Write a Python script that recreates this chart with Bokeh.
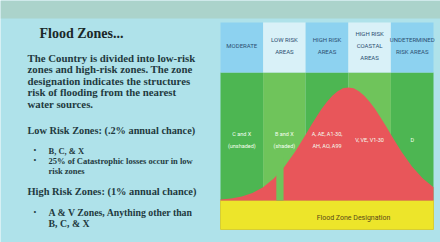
from bokeh.plotting import figure
from bokeh.models import Range1d, ColumnDataSource
from bokeh.core.properties import value
from bokeh.embed import file_html
from bokeh.resources import INLINE

# ---------------- data ----------------
zones = ["MODERATE", "LOW RISK AREAS", "HIGH RISK AREAS", "HIGH RISK COASTAL AREAS", "UNDETERMINED RISK AREAS"]
zone_header_lines = [["MODERATE"], ["LOW RISK", "AREAS"], ["HIGH RISK", "AREAS"],
                     ["HIGH RISK", "COASTAL", "AREAS"], ["UNDETERMINED", "RISK AREAS"]]
zone_codes = [["C and X", "(unshaded)"], ["B and X", "(shaded)"], ["A, AE, A1-30,", "AH, AO, A99"],
              ["V, VE, V1-30"], ["D"]]

# flood-risk curve (zone position, relative height)
curve_x = [0.0, 0.25, 0.5, 0.75, 1.0, 1.25, 1.5, 1.75, 1.875, 2.0, 2.125, 2.25, 2.375, 2.5, 2.625,
           2.75, 2.875, 3.0, 3.125, 3.25, 3.375, 3.5, 3.625, 3.75, 3.875, 4.0, 4.125, 4.25, 4.5, 4.75, 5.0]
curve_y = [0.007, 0.015, 0.031, 0.058, 0.103, 0.171, 0.264, 0.381, 0.447, 0.516, 0.585, 0.653, 0.716,
           0.772, 0.819, 0.854, 0.876, 0.883, 0.876, 0.854, 0.819, 0.772, 0.716, 0.653, 0.585, 0.516,
           0.447, 0.381, 0.264, 0.171, 0.103]
gap_x = [1.31, 1.48]   # unshaded gap between B/X and the high-risk zones

title = "Flood Zones..."
intro_lines = ["The Country is divided into low-risk", "zones and high-risk zones. The zone",
               "designation indicates the structures", "risk of flooding from the nearest", "water sources."]
low_head = "Low Risk Zones: (.2% annual chance)"
low_bullets = [["B, C, & X"], ["25% of Catastrophic losses occur in low", "risk zones"]]
high_head = "High Risk Zones: (1% annual chance)"
high_bullets = [["A & V Zones, Anything other than", "B, C, & X"]]
axis_label = "Flood Zone Designation"

# ---------------- styles ----------------
BG = "#afe2ea"
DARK_GREEN = "#4db652"
LIGHT_GREEN = "#6fc45b"
RED = "#e8565a"
YELLOW = "#ede52a"
HEAD_BLUE = "#8dd2f0"
HEAD_LIGHT = "#d9f1f8"
TXT = "#1f3a40"
SERIF = value("Liberation Serif")
SANS = value("Roboto")

# page-pixel -> data helpers (for text layout only)
PXU = 42.6
PYU = 128.0
def X(px):
    return (px - 220) / PXU
def Y(py):
    return (200 - py) / PYU

W, H = 440, 242
p = figure(width=W, height=H, x_range=Range1d(X(0), X(W)), y_range=Range1d(Y(H), Y(0)),
           output_backend="svg", toolbar_location=None, min_border=0)
p.axis.visible = False
p.grid.visible = False
p.outline_line_color = None
p.background_fill_color = BG
p.border_fill_color = BG

# soft grey-green band at top of the slide photo
p.quad(left=[X(0)], right=[X(W)], bottom=[Y(18)], top=[Y(0)], color="#a9cdbd", alpha=0.7, line_color=None)

n = len(zones)
lefts = list(range(n))
rights = [i + 1 for i in range(n)]
green_cols = [DARK_GREEN if i % 2 == 0 else LIGHT_GREEN for i in range(n)]
head_cols = [HEAD_BLUE if i % 2 == 0 else HEAD_LIGHT for i in range(n)]

# green body and header cells
p.quad(left=lefts, right=rights, bottom=0, top=1.0, color=green_cols, line_color=None)
p.quad(left=lefts, right=rights, bottom=1.0, top=Y(22), color=head_cols, line_color=None)
# yellow axis band
p.quad(left=[0], right=[n], bottom=[Y(229)], top=[0], color=YELLOW, line_color="#d8c820", line_width=0.8)

# red risk curve
src = ColumnDataSource(dict(x=curve_x, y=curve_y))
p.varea(x="x", y1=0, y2="y", source=src, color=RED)
# unshaded gap
p.quad(left=[gap_x[0]], right=[gap_x[1]], bottom=[0], top=[0.34], color=LIGHT_GREEN, line_color=None)

# header labels
for i, lines in enumerate(zone_header_lines):
    m = len(lines)
    for j, t in enumerate(lines):
        py = 45 + (j - (m - 1) / 2) * 12
        p.text(x=[i + 0.5], y=[Y(py)], text=[t], text_font=SANS, text_font_size="6px",
               text_color="#2c4f72", text_align="center", text_baseline="middle")

# zone codes (white)
for i, lines in enumerate(zone_codes):
    m = len(lines)
    for j, t in enumerate(lines):
        py = 139 + (j - (m - 1) / 2) * 12
        p.text(x=[i + 0.5], y=[Y(py)], text=[t], text_font=SANS, text_font_size="5.5px",
               text_color="#f4fff0", text_align="center", text_baseline="middle")

p.text(x=[X(353)], y=[Y(217)], text=[axis_label], text_font=SANS, text_font_size="7px",
       text_color="#5a4a18", text_align="center", text_baseline="middle")

# ---------------- left text panel ----------------
p.text(x=[X(39)], y=[Y(33)], text=[title], text_font=SERIF, text_font_style="bold",
       text_font_size="14px", text_color="#1a2828", text_baseline="middle")
for k, t in enumerate(intro_lines):
    p.text(x=[X(27)], y=[Y(57 + k * 11.6)], text=[t], text_font=SERIF, text_font_style="bold",
           text_font_size="10.8px", text_color=TXT, text_baseline="middle")

p.text(x=[X(27)], y=[Y(130)], text=[low_head], text_font=SERIF, text_font_style="bold",
       text_font_size="10.3px", text_color=TXT, text_baseline="middle")
py = 150
for b in low_bullets:
    p.text(x=[X(33)], y=[Y(py)], text=["\u2022"], text_font=SERIF, text_font_size="8px",
           text_color=TXT, text_baseline="middle")
    for t in b:
        p.text(x=[X(48)], y=[Y(py)], text=[t], text_font=SERIF, text_font_style="bold",
               text_font_size="8.5px", text_color=TXT, text_baseline="middle")
        py += 10

p.text(x=[X(27)], y=[Y(191)], text=[high_head], text_font=SERIF, text_font_style="bold",
       text_font_size="10.4px", text_color=TXT, text_baseline="middle")
py = 212
for b in high_bullets:
    p.text(x=[X(33)], y=[Y(py)], text=["\u2022"], text_font=SERIF, text_font_size="8px",
           text_color=TXT, text_baseline="middle")
    for t in b:
        p.text(x=[X(48)], y=[Y(py)], text=[t], text_font=SERIF, text_font_style="bold",
               text_font_size="9.8px", text_color=TXT, text_baseline="middle")
        py += 11

open("out.html", "w").write(file_html(p, INLINE))
